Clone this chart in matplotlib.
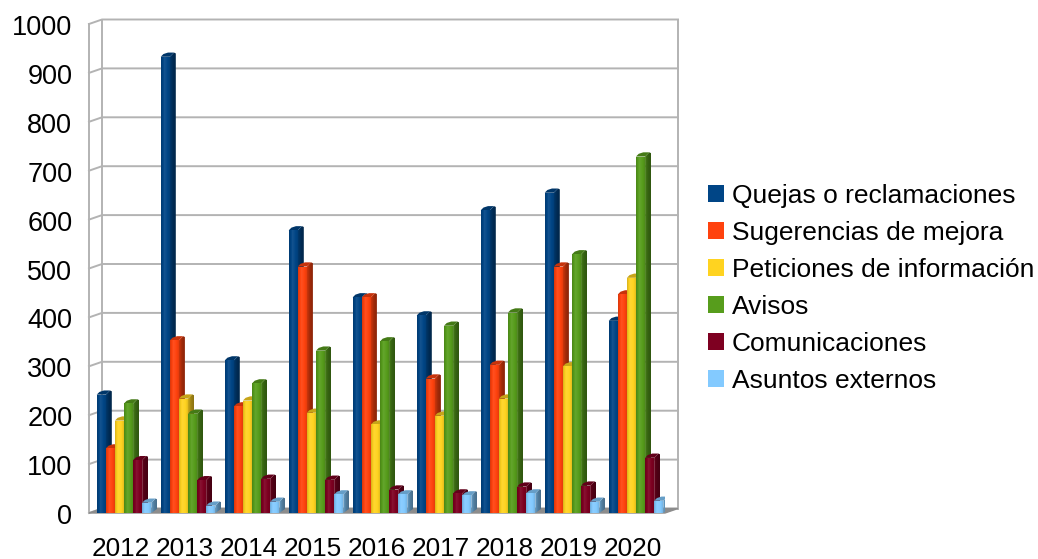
import numpy as np
import matplotlib
matplotlib.use("Agg")
import matplotlib.pyplot as plt
from matplotlib.patches import Patch, Polygon
from matplotlib.transforms import ScaledTranslation

years = ["2012", "2013", "2014", "2015", "2016", "2017", "2018", "2019", "2020"]
quejas = [242, 933, 312, 578, 441, 404, 619, 655, 393]
sugerencias = [132, 353, 218, 504, 441, 275, 303, 504, 447]
peticiones = [189, 234, 230, 205, 181, 199, 234, 300, 481]
avisos = [224, 203, 265, 332, 351, 383, 410, 529, 729]
comunicaciones = [108, 67, 70, 68, 48, 40, 54, 56, 113]
asuntos = [21, 15, 23, 38, 38, 36, 40, 23, 25]

series = [quejas, sugerencias, peticiones, avisos, comunicaciones, asuntos]
names = ["Quejas o reclamaciones", "Sugerencias de mejora", "Peticiones de información",
         "Avisos", "Comunicaciones", "Asuntos externos"]
colors = ["#004586", "#ff420e", "#ffd320", "#579d1c", "#7e0021", "#83caff"]
yticks = list(range(0, 1001, 100))

W, H = 1038, 559
GRID = "#b3b3b3"
# pixel sizes turned into data units (one category is 64 px, 1000 is 489 px)
PX = 1 / 64
PY = 1000 / 489
WALL_X, WALL_Y = 13 * PX, 4.5 * PY
BAR_W = 9.1 * PX
DEPTH_X, DEPTH_Y = 6 * PX, 4.2 * PY
BAR_SHIFT = 3 * PX

plt.rcParams["font.family"] = ["Liberation Sans", "DejaVu Sans"]
fig = plt.figure(figsize=(W / 100, H / 100), dpi=100)
ax = fig.add_axes([89 / W, 1 - 513 / H, 576 / W, 489 / H])


def shade(c, f):
    c = np.array(matplotlib.colors.to_rgb(c))
    return c * f if f <= 1 else c + (1 - c) * (f - 1)


def gradient(poly, c, stops, z):
    """Fill a polygon with a left-to-right gradient of the colour c."""
    pts = np.array(poly)
    t = np.linspace(0, 1, len(stops))
    row = np.array([shade(c, f) for f in np.interp(np.linspace(0, 1, 16), t, stops)])
    im = ax.imshow(row[None, :, :], extent=(pts[:, 0].min(), pts[:, 0].max(), pts[:, 1].min(), pts[:, 1].max()),
                   aspect="auto", zorder=z, interpolation="bilinear", origin="lower")
    patch = Polygon(poly, closed=True, fc="none", ec="none", zorder=z, transform=ax.transData)
    ax.add_patch(patch)
    im.set_clip_path(patch)


# back wall, left wall and floor
x0, x1 = -0.5, 8.5
ax.add_patch(Polygon([(x0, 0), (x1, 0), (x1 + WALL_X, WALL_Y), (x0 + WALL_X, WALL_Y)],
                     fc="#8c8c8c", ec="#8c8c8c", lw=1, zorder=2, clip_on=False))
for v in yticks:
    ax.plot([x0, x0 + WALL_X, x1 + WALL_X], [v, v + WALL_Y, v + WALL_Y], color=GRID, lw=1.4,
            zorder=1, clip_on=False)
ax.plot([x0, x0], [0, 1000], color=GRID, lw=1.4, zorder=1, clip_on=False)
ax.plot([x0 + WALL_X] * 2, [WALL_Y, 1000 + WALL_Y], color=GRID, lw=1.4, zorder=1, clip_on=False)
ax.plot([x1 + WALL_X] * 2, [WALL_Y, 1000 + WALL_Y], color=GRID, lw=1.4, zorder=1, clip_on=False)

z = 3.0
for i in range(len(years)):
    for s, vals in enumerate(series):
        v = vals[i]
        c = colors[s]
        left = i + BAR_SHIFT + (s - 3) * BAR_W
        right = left + BAR_W
        side = [(right, 0), (right + DEPTH_X, DEPTH_Y), (right + DEPTH_X, v + DEPTH_Y * 0.8),
                (right + DEPTH_X * 0.7, v + DEPTH_Y), (right, v)]
        gradient(side, c, [0.8, 0.62, 0.55], z)
        top = [(left, v), (right, v), (right + DEPTH_X * 0.7, v + DEPTH_Y),
               (left + BAR_W * 0.8, v + DEPTH_Y), (left + BAR_W * 0.3, v + DEPTH_Y * 0.65)]
        ax.add_patch(Polygon(top, fc=shade(c, 0.78), ec="none", zorder=z + 0.1))
        ax.bar(i + BAR_SHIFT + (s - 2.5) * BAR_W, v, BAR_W, color=c, zorder=z + 0.2)
        gradient([(left, 0), (right, 0), (right, v), (left, v)], c, [0.86, 1.08, 1.0, 0.86], z + 0.3)
        z += 0.5

ax.set_xlim(x0, x1)
ax.set_ylim(0, 1000)
ax.set_xticks(range(len(years)), years)
ax.set_yticks(yticks)
ax.tick_params(axis="x", length=0, pad=17, labelsize=18.8)
ax.tick_params(axis="y", length=0, pad=12, labelsize=19.5)
for lab in ax.get_yticklabels():
    lab.set_transform(lab.get_transform() + ScaledTranslation(0, -1 / 100, fig.dpi_scale_trans))
for sp in ax.spines.values():
    sp.set_visible(False)
ax.patch.set_visible(False)

handles = [Patch(fc=c, ec="none") for c in colors]
fig.legend(handles, names, loc="upper left", bbox_to_anchor=(708 / W, 1 - 184 / H), frameon=False,
           fontsize=19, borderpad=0, borderaxespad=0, handlelength=0.6, handleheight=0.6,
           handletextpad=0.3, labelspacing=0.49)

fig.savefig("out.png", dpi=100)
